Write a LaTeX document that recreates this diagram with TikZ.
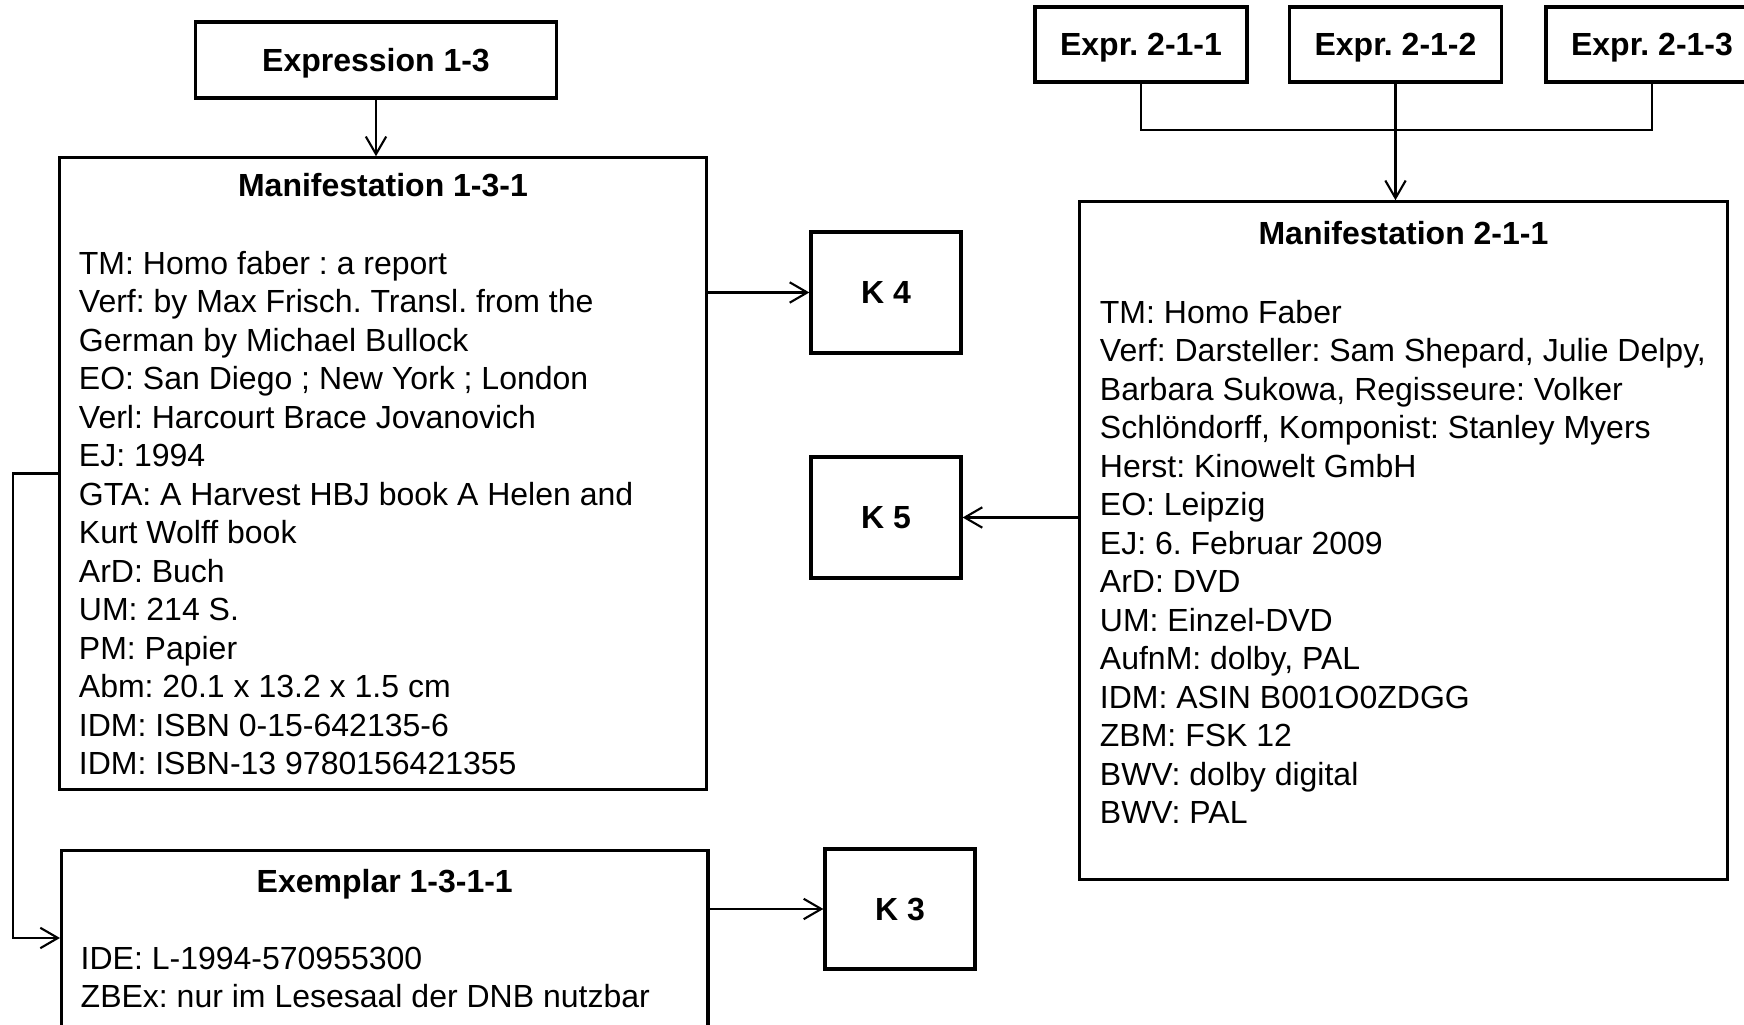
\documentclass[tikz,border=0pt]{standalone}
\usepackage{fontspec}
\setmainfont{Liberation Sans}
\usetikzlibrary{positioning,calc,arrows.meta}

\begin{document}
\frenchspacing
\begin{tikzpicture}[x=0.01cm, y=-0.01cm,
    font=\fontsize{9.1}{10.95}\selectfont,
    box/.style={draw, line width=0.9pt, inner sep=0pt},
    label box/.style={box, font=\fontsize{9.1}{10.95}\selectfont\bfseries, text height=6.5pt, text depth=0pt},
    head/.style={font=\fontsize{9.1}{10.95}\selectfont\bfseries, anchor=base, inner sep=0pt},
    body/.style={align=left, inner sep=0pt, anchor=north west},
    link/.style={line width=0.6pt, -{Straight Barb[length=5pt,width=5.8pt]}}]
    \clip (0,0) rectangle (1744,1025);

    % Book: expression, manifestation, exemplar
    \node[label box, minimum width=3.6cm, minimum height=0.76cm] (e13) at (376,60) {Expression 1-3};
    \node[box, minimum width=6.46cm, minimum height=6.31cm] (m131) at (383,473.5) {};
    \node[head] (m131head) at ($(m131.north)+(0,40)$) {Manifestation 1-3-1};
    \node[body] (m131body) at ($(m131.north west)+(20,94)$) {TM: Homo faber : a report\\
        Verf: by Max Frisch. Transl. from the\\
        German by Michael Bullock\\
        EO: San Diego ; New York ; London\\
        Verl: Harcourt Brace Jovanovich\\
        EJ: 1994\\
        GTA: A Harvest HBJ book A Helen and\\
        Kurt Wolff book\\
        ArD: Buch\\
        UM: 214 S.\\
        PM: Papier\\
        Abm: 20.1 x 13.2 x 1.5 cm\\
        IDM: ISBN 0-15-642135-6\\
        IDM: ISBN-13 9780156421355};

    \node[box, minimum width=6.46cm, minimum height=1.8cm, anchor=north west] (ex) at (60,849) {};
    \node[head] (exhead) at ($(ex.north)+(0,44)$) {Exemplar 1-3-1-1};
    \node[body] (exbody) at ($(ex.north west)+(20,97)$) {IDE: L-1994-570955300\\
        ZBEx: nur im Lesesaal der DNB nutzbar};

    % Film: expressions and manifestation
    \node[label box, minimum width=2.12cm, minimum height=0.75cm] (e211) at (1141,44.5) {Expr. 2-1-1};
    \node[label box, minimum width=2.12cm, minimum height=0.75cm] (e212) at (1395.5,44.5) {Expr. 2-1-2};
    \node[label box, minimum width=2.12cm, minimum height=0.75cm] (e213) at (1652,44.5) {Expr. 2-1-3};
    \node[box, minimum width=6.47cm, minimum height=6.77cm] (m211) at (1403.5,540.5) {};
    \node[head] (m211head) at ($(m211.north)+(0,44)$) {Manifestation 2-1-1};
    \node[body] (m211body) at ($(m211.north west)+(21,99)$) {TM: Homo Faber\\
        Verf: Darsteller: Sam Shepard, Julie Delpy,\\
        Barbara Sukowa, Regisseure: Volker\\
        Schlöndorff, Komponist: Stanley Myers\\
        Herst: Kinowelt GmbH\\
        EO: Leipzig\\
        EJ: 6. Februar 2009\\
        ArD: DVD\\
        UM: Einzel-DVD\\
        AufnM: dolby, PAL\\
        IDM: ASIN B001O0ZDGG\\
        ZBM: FSK 12\\
        BWV: dolby digital\\
        BWV: PAL};

    % K boxes
    \node[label box, minimum width=1.5cm, minimum height=1.21cm] (k4) at (886,292.5) {K 4};
    \node[label box, minimum width=1.5cm, minimum height=1.21cm] (k5) at (886,517.5) {K 5};
    \node[label box, minimum width=1.5cm, minimum height=1.2cm] (k3) at (900,909) {K 3};

    % Connectors
    \coordinate (join) at (0,130);
    \coordinate (bend) at (13,0);
    \coordinate (exin) at ($(ex.north west)+(0,89)$);
    \draw[link] (e13.south) -- (e13.south |- m131.north);
    \draw[link] (m131.east |- k4.west) -- (k4.west);
    \draw[link] (ex.east |- k3.west) -- (k3.west);
    \draw[link] (m131.west) -- (bend |- m131.west) -- (bend |- exin) -- (exin);
    \draw[line width=0.6pt] (e211.south) -- (e211.south |- join) -- (e213.south |- join) -- (e213.south);
    \draw[link] (e212.south) -- (e212.south |- m211.north);
    \draw[link] (m211.west |- k5.east) -- (k5.east);
\end{tikzpicture}
\end{document}
